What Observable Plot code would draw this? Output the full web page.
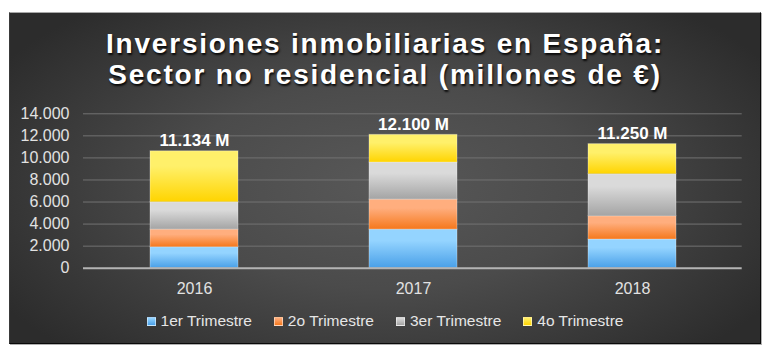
<!DOCTYPE html>
<html>
<head>
<meta charset="utf-8">
<script src="https://cdn.jsdelivr.net/npm/d3@7"></script>
<script src="https://cdn.jsdelivr.net/npm/@observablehq/plot@0.6"></script>
<style>
  html, body { margin: 0; padding: 0; background: #fff; }
  body { width: 770px; height: 354px; position: relative; overflow: hidden; font-family: "Liberation Sans", Arial, sans-serif; }
  #panel {
    position: absolute; left: 9px; top: 12px; width: 750px; height: 330px;
    background: radial-gradient(ellipse 60% 70% at 50% 52%, #585858 0%, #4b4b4b 45%, #2c2c2c 100%);
    border-top: 1px solid #a8a8a8; border-left: 1px solid #3a3a3a;
    border-right: 1px solid #0a0a0a; border-bottom: 1px solid #0a0a0a;
    box-shadow: 1px 1px 0 #b0b0b0;
  }
  #title {
    position: absolute; left: 0; top: 28px; width: 770px; text-align: center;
    color: #fff; font-weight: bold; font-size: 28px; line-height: 31px; letter-spacing: 1.8px;
    text-shadow: 1px 2px 2px rgba(0,0,0,0.85);
  }
  #chart { position: absolute; left: 0; top: 0; }
  #legend {
    position: absolute; left: 0; width: 770px; top: 312px; display: flex; justify-content: center; gap: 22px;
    color: #e6e6e6; font-size: 15.5px; line-height: 18px;
  }
  #legend .item { display: flex; align-items: center; gap: 5px; }
  #legend .sw { width: 7px; height: 7px; border: 0.5px solid rgba(255,255,255,0.5); }
</style>
</head>
<body>
<div id="panel"></div>
<div id="title">Inversiones inmobiliarias en España:<br>Sector no residencial (millones de €)</div>
<div id="chart"></div>
<div id="legend"></div>
<script>
const years = ["2016", "2017", "2018"];
const quarters = ["1er Trimestre", "2o Trimestre", "3er Trimestre", "4o Trimestre"];
const q1 = [1900, 3500, 2600];
const q2 = [1600, 2720, 2110];
const q3 = [2480, 3360, 3810];
const q4 = [4620, 2510, 2730];
const totalLabels = ["11.134 M", "12.100 M", "11.250 M"];
const yTicks = [0, 2000, 4000, 6000, 8000, 10000, 12000, 14000];

const series = [q1, q2, q3, q4];
const gradTop = ["#94d4ff", "#ffae7e", "#dadada", "#fff06a"];
const gradBot = ["#4aa0e8", "#f5781c", "#a4a4a4", "#ffd400"];

const rows = [];
years.forEach((y, i) => quarters.forEach((q, j) => rows.push({year: y, quarter: q, value: series[j][i]})));
const totals = years.map((y, i) => series.reduce((s, arr) => s + arr[i], 0));

const es = d3.formatLocale({decimal: ",", thousands: ".", grouping: [3], currency: ["", "€"]});
const fmt = es.format(",");

const svg = Plot.plot({
  width: 770, height: 300,
  marginLeft: 83, marginRight: 28.3, marginTop: 113.3, marginBottom: 32.3,
  style: {background: "transparent", color: "#e2e2e2", fontSize: "16px", fontFamily: "'Liberation Sans', Arial, sans-serif"},
  x: {domain: years, paddingInner: 0.6, paddingOuter: 0.3, tickSize: 0, tickPadding: 14, label: null},
  y: {domain: [0, 14000], ticks: yTicks, tickSize: 0, tickPadding: 14, tickFormat: fmt, label: null},
  color: {type: "ordinal", domain: quarters, range: quarters.map((q, j) => `url(#gq${j})`)},
  marks: [
    Plot.ruleY(yTicks.filter(t => t > 0), {stroke: "#727272", strokeWidth: 1}),
    Plot.barY(rows, {x: "year", y: "value", fill: "quarter", stroke: "#ffffff", strokeOpacity: 0.3, strokeWidth: 1}),
    Plot.ruleY([0], {stroke: "#b4b4b4", strokeWidth: 2}),
    Plot.text(years, {x: d => d, y: (d, i) => totals[i], text: (d, i) => totalLabels[i], lineAnchor: "bottom", dy: -5,
      fill: "#ffffff", fontWeight: "bold", fontSize: 17})
  ]
});

const ns = "http://www.w3.org/2000/svg";
const defs = document.createElementNS(ns, "defs");
series.forEach((s, j) => {
  const g = document.createElementNS(ns, "linearGradient");
  g.setAttribute("id", `gq${j}`);
  g.setAttribute("x1", "0"); g.setAttribute("y1", "0"); g.setAttribute("x2", "0"); g.setAttribute("y2", "1");
  [[0, gradTop[j]], [0.3, gradTop[j]], [1, gradBot[j]]].forEach(([o, c]) => {
    const st = document.createElementNS(ns, "stop");
    st.setAttribute("offset", o); st.setAttribute("stop-color", c);
    g.appendChild(st);
  });
  defs.appendChild(g);
});
svg.insertBefore(defs, svg.firstChild);
document.getElementById("chart").appendChild(svg);

const legend = document.getElementById("legend");
quarters.forEach((q, j) => {
  const it = document.createElement("div"); it.className = "item";
  const sw = document.createElement("div"); sw.className = "sw";
  sw.style.background = `linear-gradient(${gradTop[j]}, ${gradBot[j]})`;
  const tx = document.createElement("span"); tx.textContent = q;
  it.appendChild(sw); it.appendChild(tx); legend.appendChild(it);
});
</script>
</body>
</html>
